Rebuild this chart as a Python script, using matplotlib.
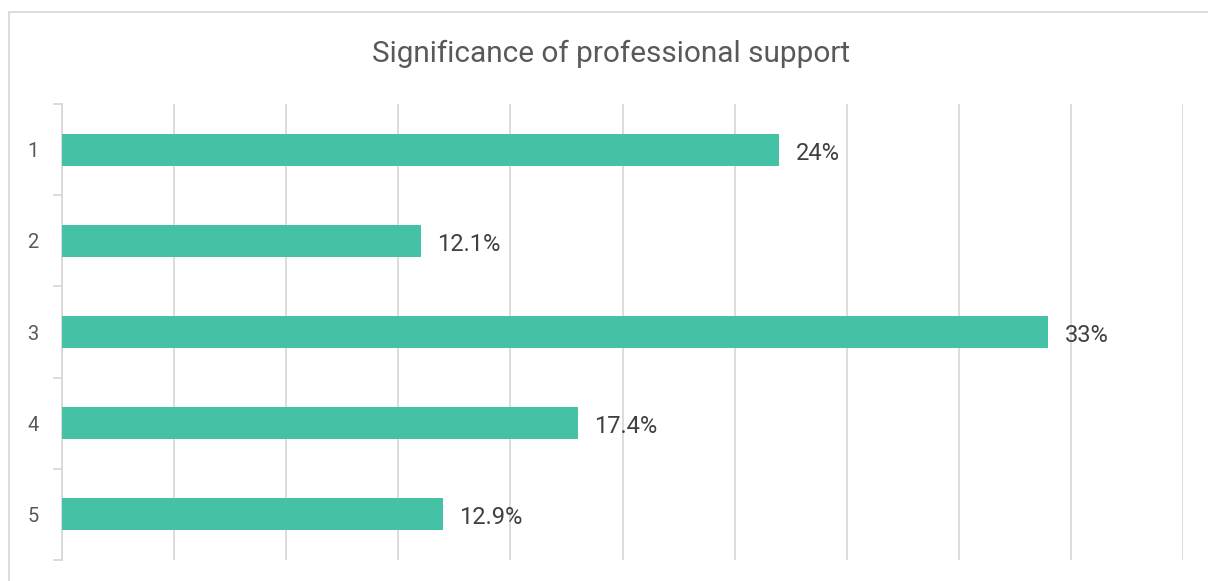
import matplotlib
matplotlib.use("Agg")
import matplotlib.pyplot as plt
from matplotlib.patches import Rectangle

categories = ["1", "2", "3", "4", "5"]
values = [24.0, 12.0, 33.0, 17.25, 12.75]          # bar lengths (%)
value_labels = ["24%", "12.1%", "33%", "17.4%", "12.9%"]
title = "Significance of professional support"

plt.rcParams['font.family'] = ['Roboto', 'DejaVu Sans']

W, H = 1208, 581
fig = plt.figure(figsize=(W / 100, H / 100), dpi=100)
fig.patch.set_facecolor("white")

# outer chart border (cropped on right and bottom)
fig.add_artist(Rectangle((9 / W, -0.1), 1.2, (H - 12) / H + 0.1, transform=fig.transFigure,
                         fill=False, edgecolor="#D9D9D9", linewidth=1.3))

left, right, top, bottom = 62, 1183, 104, 560
ax = fig.add_axes([left / W, (H - bottom) / H, (right - left) / W, (bottom - top) / H])

n = len(categories)
ypos = list(range(n))
ax.barh(ypos, values, height=0.35, color="#45C2A5", zorder=3)
ax.set_ylim(n - 0.5, -0.5)
ax.set_xlim(0, 37.5)
ax.set_xticks([3.75 * i for i in range(11)])
ax.set_xticklabels([])
ax.tick_params(axis="x", length=0)
ax.grid(axis="x", color="#D9D9D9", linewidth=1.3, zorder=0)

ax.set_yticks(ypos)
ax.set_yticklabels(categories, fontsize=14.5, color="#595959")
ax.tick_params(axis="y", length=0, pad=17)
# category boundary ticks
for b in [i - 0.5 for i in range(n + 1)]:
    ax.plot([-0.27, 0], [b, b], color="#D9D9D9", linewidth=1.3, clip_on=False, zorder=2)

for s in ["top", "right", "bottom"]:
    ax.spines[s].set_visible(False)
ax.spines["left"].set_color("#D9D9D9")
ax.spines["left"].set_linewidth(1.3)

for y, v, lab in zip(ypos, values, value_labels):
    ax.annotate(lab, (v, y), xytext=(16, -10), textcoords="offset pixels",
                va="baseline", ha="left", fontsize=17, color="#404040", zorder=4)

fig.text(611 / W, (H - 62.5) / H, title, ha="center", va="baseline", fontsize=21.4, color="#595959")

fig.savefig("out.png", dpi=100)
